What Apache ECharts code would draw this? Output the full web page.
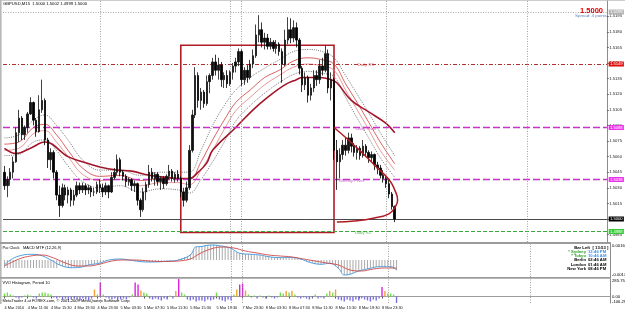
<!DOCTYPE html>
<html><head><meta charset="utf-8">
<script src="https://cdn.jsdelivr.net/npm/echarts@6/dist/echarts.min.js"></script>
<style>html,body{margin:0;padding:0;background:#fff;}#c{width:625px;height:311px;}</style>
</head><body><div id="c"></div>
<script>
// ---------- DATA ----------
const totalSlots = 209; // bar slots incl. chart shift
// [open, close, low, high]
const candles = [
[1.5045,1.5032,1.5028,1.5051],[1.5032,1.5038,1.5021,1.5041],[1.5038,1.5045,1.5032,1.5049],[1.5045,1.5055,1.5039,1.5060],
[1.5055,1.5083,1.5054,1.5088],[1.5083,1.5097,1.5074,1.5105],[1.5097,1.5081,1.5076,1.5099],[1.5081,1.5088,1.5076,1.5090],
[1.5088,1.5101,1.5083,1.5103],[1.5101,1.5112,1.5100,1.5117],[1.5112,1.5095,1.5090,1.5113],[1.5095,1.5084,1.5079,1.5097],
[1.5084,1.5105,1.5083,1.5119],[1.5105,1.5114,1.5102,1.5134],[1.5114,1.5076,1.5071,1.5116],[1.5076,1.5057,1.5049,1.5078],
[1.5057,1.5064,1.5047,1.5068],[1.5064,1.5045,1.5039,1.5066],[1.5045,1.5023,1.5018,1.5047],[1.5023,1.5013,1.5002,1.5032],
[1.5013,1.5030,1.5011,1.5034],[1.5030,1.5023,1.5018,1.5033],[1.5023,1.5028,1.5015,1.5031],[1.5028,1.5018,1.5012,1.5030],
[1.5018,1.5023,1.5013,1.5028],[1.5023,1.5032,1.5021,1.5036],[1.5032,1.5028,1.5024,1.5035],[1.5028,1.5032,1.5025,1.5035],
[1.5032,1.5028,1.5023,1.5034],[1.5028,1.5030,1.5024,1.5033],[1.5030,1.5026,1.5021,1.5032],[1.5026,1.5026,1.5022,1.5030],
[1.5026,1.5033,1.5024,1.5036],[1.5033,1.5030,1.5025,1.5038],[1.5030,1.5026,1.5021,1.5034],[1.5026,1.5032,1.5023,1.5035],
[1.5032,1.5026,1.5020,1.5033],[1.5026,1.5040,1.5025,1.5045],[1.5040,1.5045,1.5038,1.5049],[1.5045,1.5057,1.5042,1.5062],
[1.5057,1.5045,1.5041,1.5059],[1.5045,1.5041,1.5037,1.5047],[1.5041,1.5036,1.5031,1.5043],[1.5036,1.5038,1.5032,1.5040],
[1.5038,1.5032,1.5027,1.5039],[1.5032,1.5034,1.5026,1.5037],[1.5034,1.5018,1.5013,1.5035],[1.5018,1.5009,1.5002,1.5020],
[1.5009,1.5026,1.5007,1.5030],[1.5026,1.5033,1.5018,1.5036],[1.5033,1.5045,1.5030,1.5052],[1.5045,1.5039,1.5036,1.5049],
[1.5039,1.5043,1.5032,1.5045],[1.5043,1.5036,1.5032,1.5045],[1.5036,1.5039,1.5028,1.5041],[1.5039,1.5034,1.5029,1.5041],
[1.5034,1.5041,1.5032,1.5043],[1.5041,1.5046,1.5038,1.5052],[1.5046,1.5039,1.5036,1.5048],[1.5039,1.5043,1.5035,1.5045],
[1.5043,1.5039,1.5036,1.5047],[1.5039,1.5026,1.5021,1.5041],[1.5026,1.5018,1.5012,1.5030],[1.5018,1.5030,1.5016,1.5036],
[1.5030,1.5066,1.5028,1.5071],[1.5066,1.5100,1.5064,1.5105],[1.5100,1.5138,1.5097,1.5146],[1.5138,1.5114,1.5107,1.5141],
[1.5114,1.5122,1.5105,1.5126],[1.5122,1.5111,1.5107,1.5124],[1.5111,1.5132,1.5109,1.5138],[1.5132,1.5138,1.5121,1.5140],
[1.5138,1.5151,1.5134,1.5155],[1.5151,1.5143,1.5138,1.5158],[1.5143,1.5148,1.5134,1.5155],[1.5148,1.5134,1.5127,1.5151],
[1.5134,1.5138,1.5126,1.5141],[1.5138,1.5130,1.5126,1.5143],[1.5130,1.5141,1.5128,1.5143],[1.5141,1.5147,1.5134,1.5150],
[1.5147,1.5151,1.5141,1.5155],[1.5151,1.5161,1.5147,1.5164],[1.5161,1.5134,1.5128,1.5163],[1.5134,1.5143,1.5129,1.5146],
[1.5143,1.5136,1.5131,1.5148],[1.5136,1.5149,1.5134,1.5153],[1.5149,1.5157,1.5145,1.5163],[1.5157,1.5177,1.5155,1.5187],
[1.5177,1.5182,1.5170,1.5196],[1.5182,1.5170,1.5165,1.5189],[1.5170,1.5174,1.5163,1.5179],[1.5174,1.5166,1.5163,1.5178],
[1.5166,1.5170,1.5163,1.5174],[1.5170,1.5164,1.5161,1.5172],[1.5164,1.5168,1.5159,1.5172],[1.5168,1.5161,1.5157,1.5170],
[1.5161,1.5149,1.5131,1.5164],[1.5149,1.5172,1.5147,1.5182],[1.5172,1.5182,1.5168,1.5194],[1.5182,1.5174,1.5169,1.5193],
[1.5174,1.5184,1.5170,1.5191],[1.5184,1.5172,1.5165,1.5189],[1.5172,1.5145,1.5139,1.5174],[1.5145,1.5129,1.5122,1.5147],
[1.5129,1.5136,1.5124,1.5141],[1.5136,1.5119,1.5112,1.5138],[1.5119,1.5126,1.5114,1.5130],[1.5126,1.5138,1.5122,1.5143],
[1.5138,1.5134,1.5128,1.5143],[1.5134,1.5147,1.5130,1.5153],[1.5147,1.5143,1.5138,1.5155],[1.5143,1.5159,1.5141,1.5167],
[1.5159,1.5126,1.5121,1.5163],[1.5126,1.5134,1.5114,1.5141],[1.5134,1.5066,1.5057,1.5136],[1.5066,1.5055,1.5028,1.5076],
[1.5055,1.5062,1.5039,1.5068],[1.5062,1.5071,1.5057,1.5076],[1.5071,1.5066,1.5061,1.5078],[1.5066,1.5078,1.5063,1.5083],
[1.5078,1.5070,1.5064,1.5082],[1.5070,1.5064,1.5060,1.5073],[1.5064,1.5068,1.5057,1.5071],[1.5068,1.5061,1.5057,1.5070],
[1.5061,1.5070,1.5059,1.5076],[1.5070,1.5064,1.5060,1.5072],[1.5064,1.5059,1.5054,1.5066],[1.5059,1.5062,1.5055,1.5065],
[1.5062,1.5052,1.5047,1.5063],[1.5052,1.5049,1.5043,1.5055],[1.5049,1.5042,1.5039,1.5052],[1.5042,1.5039,1.5035,1.5047],
[1.5039,1.5034,1.5030,1.5041],[1.5034,1.5024,1.5020,1.5038],[1.5024,1.5012,1.5009,1.5026],[1.5012,1.5000,1.4997,1.5013]
];
// envelope / MA lines (bar index samples)
const maIdx   = [0,5,10,14,18,22,27,33,40,47,54,60,64,68,72,76,80,85,90,95,100,105,110,114,118,122,126,130,135];
const maUpper = [1.5078,1.5081,1.5095,1.5100,1.5090,1.5076,1.5057,1.5047,1.5047,1.5042,1.5045,1.5045,1.5045,1.5066,1.5090,1.5109,1.5124,1.5136,1.5145,1.5153,1.5161,1.5163,1.5161,1.5155,1.5138,1.5120,1.5102,1.5083,1.5061];
const maRed1  = [1.5072,1.5074,1.5088,1.5091,1.5081,1.5066,1.5049,1.5041,1.5042,1.5037,1.5039,1.5039,1.5038,1.5055,1.5076,1.5095,1.5112,1.5124,1.5136,1.5143,1.5152,1.5155,1.5153,1.5149,1.5130,1.5112,1.5093,1.5074,1.5053];
const maRed2  = [1.5066,1.5068,1.5082,1.5085,1.5074,1.5060,1.5043,1.5037,1.5038,1.5032,1.5035,1.5035,1.5033,1.5047,1.5066,1.5086,1.5104,1.5117,1.5129,1.5138,1.5146,1.5149,1.5147,1.5143,1.5124,1.5105,1.5086,1.5066,1.5047];
const maLower = [1.5061,1.5062,1.5074,1.5076,1.5066,1.5051,1.5036,1.5030,1.5032,1.5026,1.5029,1.5028,1.5025,1.5038,1.5055,1.5074,1.5094,1.5109,1.5121,1.5131,1.5139,1.5142,1.5140,1.5137,1.5117,1.5097,1.5078,1.5059,1.5040];
const slowIdx = [0,4,9,14,22,27,33,39,44,50,56,60,64,67,70,72,80,86,91,97,101,103,109,113,115,120,126,132,135];
const slowMA  = [1.5068,1.5063,1.5068,1.5074,1.5060,1.5055,1.5050,1.5047,1.5046,1.5042,1.5040,1.5039,1.5039,1.5045,1.5054,1.5066,1.5088,1.5105,1.5117,1.5129,1.5134,1.5136,1.5136,1.5134,1.5131,1.5114,1.5103,1.5092,1.5083];
// drawn objects
const ellipseIdx   = [114.2,119,124.2,129.3,132.8,134.5,135.5,134.8,132.8,127.6,120.7,114.5];
const ellipsePrice = [1.5088,1.5076,1.5063,1.5049,1.5038,1.5028,1.5018,1.5011,1.5005,1.5001,1.4998,1.4997];
const rectIdx   = [61, 114];
const rectPrice = [1.5167, 1.4987];
const levelNames  = ['', 'Daily R1', 'Daily Pivot', 'Weekly Pivot', '', 'Daily S1'];
const levelPrices = [1.5199, 1.5149, 1.5088, 1.5038, 1.5000, 1.4988];
const levelTextIdx = [0, 124.5, 125, 120, 0, 124];
const separatorIdx = [33, 78, 82, 132, 181];
// MACD MTF
const macdHist = [
-0.0008,-0.0008,-0.0008,-0.0008,-0.0008,-0.0008,-0.0008,-0.0008,-0.0008,-0.0008,-0.0008,-0.0008,-0.0008,-0.0008,-0.0008,-0.0008,-0.0008,-0.0008,-0.0008,
-0.0005,-0.0006,-0.0007,
-0.0008,-0.0008,-0.0007,-0.0007,-0.0007,-0.0006,-0.0006,
-0.0005,-0.0004,-0.0004,-0.0003,-0.0003,-0.0002,-0.0001,
0,0.0001,0.0001,0.0001,0.0001,0.0001,0,0,0,-0.0001,
-0.0001,-0.0002,-0.0002,-0.0002,-0.0002,-0.0002,-0.0002,-0.0002,-0.0002,-0.0001,-0.0001,-0.0001,0,0,
0.0001,0.0002,0.0003,0.0004,0.0006,0.0009,0.0013,
0.0014,0.0014,0.0015,0.0015,0.0015,0.0015,0.0015,0.0014,0.0014,
0.0013,0.0012,0.0011,0.0009,0.0008,0.0007,0.0007,0.0006,0.0006,
0.0006,0.0005,0.0005,0.0005,0.0004,0.0004,0.0004,0.0003,0.0003,0.0003,0.0003,
0.0003,0.0003,0.0003,0.0002,0.0002,0.0001,0.0001,0,-0.0001,
-0.0002,-0.0003,-0.0004,-0.0004,-0.0004,-0.0004,-0.0003,-0.0003,-0.0004,
-0.0006,-0.0009,-0.0012,-0.0015,-0.0015,-0.0014,-0.0013,-0.0012,-0.0011,
-0.0010,-0.0009,-0.0009,-0.0008,-0.0008,-0.0007,-0.0007,-0.0007,-0.0007,-0.0007,-0.0008,-0.0009,-0.0010];
const macdIdx  = [0,2,5,9,12,16,19,23,26,29,33,36,40,43,47,50,54,57,60,64,66,67,71,74,78,81,85,88,91,95,98,102,105,109,112,115,117,119,122,126,129,133,135];
const macdMain = [-0.0005,0,0.0004,0.00057,0.0005,0,-0.0005,-0.00077,-0.00073,-0.0005,-0.0003,0,0.0001,0,-0.00017,-0.0002,-0.00017,-0.0001,0,0.0005,0.00133,0.00133,0.0015,0.00143,0.00117,0.00067,0.00057,0.0005,0.00033,0.00023,0.00027,0.0001,-0.00023,-0.00043,-0.00033,-0.00083,-0.0015,-0.00143,-0.0011,-0.00083,-0.00067,-0.00067,-0.001];
const sigIdx   = [0,5,9,13,17,21,25,29,33,37,41,45,50,55,60,64,67,71,75,79,83,87,91,95,99,103,107,111,115,119,123,127,131,135];
const macdSig  = [-0.0006,0.0001,0.0004,0.0005,0.0002,-0.0003,-0.0006,-0.0006,-0.0004,-0.0001,0,0,-0.0001,-0.00015,-0.0001,0.0001,0.0006,0.0011,0.0013,0.0012,0.0009,0.0007,0.0005,0.0004,0.0003,0.0001,-0.0001,-0.0003,-0.0005,-0.0010,-0.0011,-0.0009,-0.0008,-0.0008];
// volume histogram
const volHist = [49,65,33,16,-16,-33,-16,16,33,16,-16,-33,49,65,65,49,33,-16,-33,-16,
-49,-33,-65,-49,-33,-49,-65,-33,-49,-65,-33,114,33,229,33,-16,-33,-49,-33,-65,
-49,-33,-49,-16,33,229,196,98,65,49,-33,-49,-33,-49,-65,-33,-49,16,-33,89,
285.753,65,33,-49,-65,-49,-82,-65,-65,-82,-49,-65,-49,65,-49,-65,-82,-49,-65,33,
114,196,212,98,33,-16,16,-33,16,-16,-33,16,-16,-33,-16,65,49,89,65,89,
33,-16,-33,-16,-33,-49,-16,33,-33,-16,-33,49,89,65,114,-49,-65,-82,-49,-65,
-82,-49,-65,-33,-49,-65,-82,-49,-65,-33,155,89,49,49,33,-131];
// axes text
const priceTicks = [1.4985,1.5000,1.5015,1.5030,1.5045,1.5060,1.5075,1.5090,1.5105,1.5120,1.5135,1.5150,1.5165,1.5180,1.5195,1.5210];
const timeLabelIdx = [0,8,16,24,32,40,48,56,64,73,82,90,98,106,114,122,130];
const timeLabels = ['4 Mar 2010','4 Mar 11:30','4 Mar 15:30','4 Mar 19:30','4 Mar 23:30','5 Mar 03:30','5 Mar 07:30','5 Mar 11:30','5 Mar 15:30','5 Mar 19:30','7 Mar 23:30','8 Mar 03:30','8 Mar 07:30','8 Mar 11:30','8 Mar 15:30','8 Mar 19:30','8 Mar 23:30'];
const clockNames = ['Bar Left','* Sydney','* Tokyo','Berlin','London','New York'];
const clockTimes = ['[ 13:53 ]','12:46 PM','10:46 AM','02:46 AM','01:46 AM','08:46 PM'];

// ---------- STYLE / BUILD ----------
const FF = 'Liberation Sans, Arial, sans-serif';
const cats = Array.from({length: totalSlots}, (_, i) => String(i));
const pairs = (xs, ys) => xs.map((x, k) => [x, ys[k]]);
const levelStyle = [
  {line:'#a8a8a8', type:[1,1.5], bg:'#b4b4b4', fg:'#fff', text:'#999'},
  {line:'#b03030', type:[4,2,1,2], bg:'#e01010', fg:'#fff', text:'#d03030'},
  {line:'#c832c8', type:[7,3], bg:'#ee33ee', fg:'#fff', text:'#c040c0'},
  {line:'#c832c8', type:[7,3], bg:'#ee33ee', fg:'#fff', text:'#c040c0'},
  {line:'#4a4a4a', type:'solid', bg:'#000000', fg:'#fff', text:'#000'},
  {line:'#3aa83a', type:[4,2], bg:'#33cc33', fg:'#fff', text:'#33aa33'}
];
const sepLine = {
  symbol:'none', silent:true, animation:false, precision:4, label:{show:false},
  lineStyle:{color:'#8a8a8a', type:[1,1.5], width:0.8},
  data: separatorIdx.map(i => ({xAxis: i}))
};
const volColor = v => v < 0 ? '#7a6fe0' : (v < 75 ? '#74dd4c' : (v < 150 ? '#f2a030' : '#e020e0'));

const chart = echarts.init(document.getElementById('c'), null, {renderer:'canvas'});
const gTxt = (x, y, text, fill, size, opts) => ({
  type:'text', x, y, silent:true, z:100,
  style: {text, fill, font: (opts && opts.bold ? 'bold ' : '') + size + 'px ' + FF,
    align:(opts && opts.align) || 'left', verticalAlign:'middle'}
});

const graphics = [
  {type:'rect', shape:{x:0,y:0,width:625,height:0.8}, style:{fill:'#bdbdbd'}, silent:true},
  {type:'rect', shape:{x:0,y:0,width:1.6,height:304}, style:{fill:'#b8b8b8'}, silent:true},
  {type:'rect', shape:{x:0,y:242,width:611,height:2}, style:{fill:'#9c9c9c'}, silent:true},
  {type:'rect', shape:{x:0,y:277,width:611,height:1.8}, style:{fill:'#9c9c9c'}, silent:true},
  gTxt(3, 3.5, 'GBPUSD,M15  1.5000 1.5002 1.4999 1.5000', '#000', 4.2),
  gTxt(603, 10.5, '1.5000', '#e00000', 7.5, {bold:true, align:'right'}),
  gTxt(607, 16, 'Spread: 4 points', '#5a86b4', 4.4, {align:'right'}),
  gTxt(2.5, 247.5, 'Pai Clock', '#000', 4),
  gTxt(23, 247.5, 'MACD MTF (12,26,9)', '#000', 4),
  gTxt(2.5, 282.5, 'VVO Histogram, Period 10', '#000', 4),
  gTxt(2.5, 300.8, 'MetaTrader 4 at FOREX.com, \u00a9 2001-2009 MetaQuotes Software Corp.', '#000', 4),
  gTxt(612, 245.5, '0.001600', '#000', 4.2),
  gTxt(612, 275, '-0.001700', '#000', 4.2),
  gTxt(612, 280.5, '285.753', '#000', 4.2),
  gTxt(612, 296.5, '0.00', '#000', 4.2),
  gTxt(612, 302, '-106.29', '#000', 4.2)
];
clockNames.forEach((n, k) => {
  const y = 248 + k * 4.1;
  const isBar = k === 0;
  const nc = (k === 1 || k === 2) ? '#2aa02a' : '#000';
  const tc = (k === 1 || k === 2) ? '#3a8ee6' : '#000';
  graphics.push(gTxt(isBar ? 590 : 586, y, n, nc, 4.2, {bold:true, align:'right'}));
  graphics.push(gTxt(isBar ? 592.5 : 588, y, clockTimes[k], tc, 4.2, {bold:true}));
});

const levelMarkLines = levelPrices.map((p, k) => ({
  yAxis: p,
  lineStyle:{color: levelStyle[k].line, type: levelStyle[k].type, width: (k === 2 || k === 3) ? 1.3 : 1, opacity:1},
  label:{show:true, position:'end', distance:1.5, formatter: p.toFixed(4), color: levelStyle[k].fg,
         backgroundColor: levelStyle[k].bg, fontSize:4.2, fontFamily:FF, padding:[0.6,1.2,0.4,1.2]}
}));

const levelTextData = [];
levelNames.forEach((n, k) => { if (n) levelTextData.push({
  value:[levelTextIdx[k], levelPrices[k]],
  label:{show:true, formatter:n, color:levelStyle[k].text, fontSize:4.4, fontFamily:FF, position:'inside', offset:[0,1.2]}
}); });

const option = {
  animation:false,
  backgroundColor:'#ffffff',
  graphic: graphics,
  grid:[
    {left:3, top:1, width:607, height:241},
    {left:3, top:244, width:607, height:33},
    {left:3, top:279, width:607, height:24}
  ],
  xAxis:[
    {type:'category', gridIndex:0, data:cats, boundaryGap:true, axisLine:{show:false}, axisTick:{show:false}, axisLabel:{show:false}, splitLine:{show:false}},
    {type:'category', gridIndex:1, data:cats, boundaryGap:true, axisLine:{show:false}, axisTick:{show:false}, axisLabel:{show:false}},
    {type:'category', gridIndex:2, data:cats, boundaryGap:true,
      axisLine:{show:true, lineStyle:{color:'#9c9c9c', width:1}},
      axisTick:{show:true, length:2, lineStyle:{color:'#555'}, alignWithLabel:true, interval:(i) => timeLabelIdx.includes(i)},
      axisLabel:{show:true, interval:(i) => timeLabelIdx.includes(i), formatter:(v) => { const k = timeLabelIdx.indexOf(Number(v)); return k >= 0 ? timeLabels[k] : ''; },
        fontSize:3.9, fontFamily:FF, color:'#111', align:'left', margin:2.5}}
  ],
  yAxis:[
    {type:'value', gridIndex:0, position:'right', min:1.497788, max:1.520962,
      axisLine:{show:true, lineStyle:{color:'#8c8c8c', width:1}},
      axisTick:{show:true, length:1.5, inside:false, customValues: priceTicks, lineStyle:{color:'#555'}},
      axisLabel:{show:true, customValues: priceTicks, formatter:(v) => v.toFixed(4), fontSize:4.2, fontFamily:FF, color:'#222', margin:2},
      splitLine:{show:false}},
    {type:'value', gridIndex:1, position:'right', min:-0.0017, max:0.0016,
      axisLine:{show:true, lineStyle:{color:'#8c8c8c'}}, axisTick:{show:false}, axisLabel:{show:false}, splitLine:{show:false}},
    {type:'value', gridIndex:2, position:'right', min:-106.29, max:285.753,
      axisLine:{show:true, lineStyle:{color:'#8c8c8c'}}, axisTick:{show:false}, axisLabel:{show:false}, splitLine:{show:false}}
  ],
  series:[
    {type:'candlestick', name:'GBPUSD', xAxisIndex:0, yAxisIndex:0, data:candles, barWidth:2, z:5,
      itemStyle:{color:'#111', color0:'#000', borderColor:'#111', borderColor0:'#000', borderWidth:0.8},
      markLine:{symbol:'none', silent:true, animation:false, precision:4,
        data:[...levelMarkLines, ...separatorIdx.map(i => ({xAxis:i, lineStyle:{color:'#8a8a8a', type:[1,1.5], width:0.8}, label:{show:false}}))]},
      markArea:{silent:true, itemStyle:{color:'rgba(0,0,0,0)', borderColor:'#b01c24', borderWidth:1.6},
        data:[[{xAxis:rectIdx[0], yAxis:rectPrice[0]}, {xAxis:rectIdx[1], yAxis:rectPrice[1]}]]}},
    {type:'line', name:'env up', xAxisIndex:0, yAxisIndex:0, data:pairs(maIdx, maUpper), smooth:0.4, showSymbol:false, lineStyle:{color:'#555', width:0.8, type:[1,1.2]}, z:3},
    {type:'line', name:'ma1', xAxisIndex:0, yAxisIndex:0, data:pairs(maIdx, maRed1), smooth:0.4, showSymbol:false, lineStyle:{color:'#d03a3a', width:0.8}, z:3},
    {type:'line', name:'ma2', xAxisIndex:0, yAxisIndex:0, data:pairs(maIdx, maRed2), smooth:0.4, showSymbol:false, lineStyle:{color:'#e08080', width:0.8}, z:3},
    {type:'line', name:'env dn', xAxisIndex:0, yAxisIndex:0, data:pairs(maIdx, maLower), smooth:0.4, showSymbol:false, lineStyle:{color:'#555', width:0.8, type:[1,1.2]}, z:3},
    {type:'line', name:'slow', xAxisIndex:0, yAxisIndex:0, data:pairs(slowIdx, slowMA), smooth:0.4, showSymbol:false, lineStyle:{color:'#a3162a', width:1.6}, z:4},
    {type:'line', name:'ellipse', xAxisIndex:0, yAxisIndex:0, data:pairs(ellipseIdx, ellipsePrice), smooth:0.5, showSymbol:false, lineStyle:{color:'#b01c24', width:1.5}, z:6},
    {type:'scatter', name:'level text', xAxisIndex:0, yAxisIndex:0, data:levelTextData, symbolSize:0, silent:true, z:7},
    {type:'bar', name:'macd hist', xAxisIndex:1, yAxisIndex:1, data:macdHist, barWidth:0.9, itemStyle:{color:'#a9a9a9'},
      markLine: sepLine},
    {type:'line', name:'macd', xAxisIndex:1, yAxisIndex:1, data:pairs(macdIdx, macdMain), smooth:0.4, showSymbol:false, lineStyle:{color:'#4ea0e0', width:1}},
    {type:'line', name:'signal', xAxisIndex:1, yAxisIndex:1, data:pairs(sigIdx, macdSig), smooth:0.4, showSymbol:false, lineStyle:{color:'#d04848', width:0.9}},
    {type:'bar', name:'vol', xAxisIndex:2, yAxisIndex:2, data:volHist, barWidth:1.4,
      itemStyle:{color:(p) => volColor(p.value)}, markLine: sepLine}
  ]
};
chart.setOption(option);
</script>
</body></html>
